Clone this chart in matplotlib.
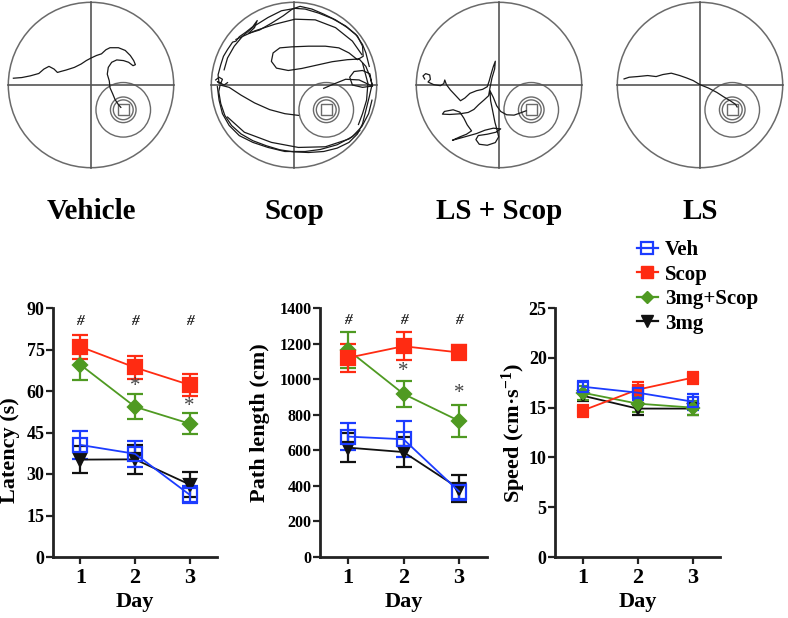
import numpy as np
import matplotlib
matplotlib.use('Agg')
from matplotlib import pyplot as plt
from matplotlib.patches import Circle, Rectangle
from matplotlib.lines import Line2D

plt.rcParams['font.family'] = ['Liberation Serif', 'DejaVu Serif']
plt.rcParams['font.weight'] = 'bold'
plt.rcParams['mathtext.fontset'] = 'custom'
plt.rcParams['mathtext.rm'] = 'Liberation Serif:bold'
plt.rcParams['mathtext.it'] = 'Liberation Serif:bold'

# ---- data ----
days = [1, 2, 3]
groups = ['Veh', 'Scop', '3mg+Scop', '3mg']

lat_veh = [40.5, 37.3, 22.5]
lat_veh_err = [5.2, 4.7, 3.0]
lat_scop = [76.0, 68.5, 62.2]
lat_scop_err = [4.3, 4.2, 4.0]
lat_combo = [69.5, 54.3, 48.2]
lat_combo_err = [5.5, 4.6, 3.8]
lat_3mg = [35.2, 35.3, 26.2]
lat_3mg_err = [5.0, 5.2, 4.6]

path_veh = [677, 662, 368]
path_veh_err = [75, 100, 45]
path_scop = [1120, 1185, 1150]
path_scop_err = [78, 78, 42]
path_combo = [1165, 917, 765]
path_combo_err = [100, 75, 92]
path_3mg = [615, 590, 385]
path_3mg_err = [80, 85, 75]

spd_veh = [17.1, 16.5, 15.6]
spd_veh_err = [0.6, 0.7, 0.8]
spd_scop = [14.7, 16.8, 18.0]
spd_scop_err = [0.6, 0.8, 0.6]
spd_combo = [16.5, 15.4, 15.0]
spd_combo_err = [0.7, 0.8, 0.7]
spd_3mg = [16.2, 14.9, 14.9]
spd_3mg_err = [0.5, 0.6, 0.6]

# significance marks (day, y)
lat_hash_y = 85
lat_star = [(2, 61.5), (3, 54.5)]
path_hash_y = 1330
path_star = [(2, 1045), (3, 920)]

# swim traces, tracker pixels (x right, y down) + pool calibration (cx, cy, R)
pool_names = ['Vehicle', 'Scop', 'LS + Scop', 'LS']
pool_calib = [(274, 252, 244), (267, 255, 245), (267, 253, 247), (930, 253, 245)]

veh_trace = [[(45, 232), (70, 230), (95, 225), (120, 218), (135, 205), (150, 197), (165, 205),
              (175, 215), (185, 212), (200, 208), (225, 200), (245, 190), (260, 180), (275, 172),
              (290, 165), (305, 160), (318, 148), (330, 142), (355, 142), (375, 150), (390, 165),
              (400, 180), (405, 192), (398, 195), (385, 185), (370, 180), (350, 178), (335, 185),
              (325, 200), (322, 220), (328, 240), (330, 260), (338, 278), (345, 295), (355, 310),
              (362, 318)]]

scop_trace = [
    [(45, 250), (42, 225), (50, 195), (58, 170), (70, 150), (85, 128), (95, 125), (105, 112),
     (125, 98), (145, 82), (158, 64), (150, 85), (132, 102), (165, 92), (200, 72), (235, 50),
     (262, 30), (285, 22), (320, 30), (355, 45), (390, 62), (425, 85), (455, 110), (470, 140),
     (472, 170), (455, 180), (430, 160), (400, 145), (360, 140), (310, 140), (260, 142),
     (225, 145), (205, 160), (200, 185), (215, 205), (250, 212), (290, 206), (335, 196),
     (380, 186), (425, 180), (460, 178), (480, 200), (492, 230), (500, 258), (470, 262),
     (440, 255), (432, 232), (445, 215), (470, 212), (492, 222), (498, 255), (490, 290),
     (480, 330), (470, 370), (455, 400), (430, 425), (395, 442), (355, 452), (310, 455),
     (265, 453), (225, 447), (185, 435), (145, 420), (110, 400), (82, 375), (62, 345),
     (50, 310), (44, 275), (48, 255), (75, 262), (110, 285), (150, 308), (195, 328),
     (240, 340), (280, 345)],
    [(498, 258), (460, 240), (420, 238), (385, 252), (355, 265)],
    [(40, 260), (45, 300), (55, 340), (75, 375), (105, 405), (145, 425), (190, 440), (240, 452),
     (300, 452), (345, 446), (395, 432), (440, 408), (468, 378), (488, 340), (498, 300)],
    [(60, 210), (70, 175), (90, 140), (115, 110), (150, 80), (190, 55), (230, 35), (270, 28),
     (300, 30), (340, 42), (380, 58), (420, 80), (450, 105), (470, 135), (480, 160), (490, 200)],
    [(95, 120), (150, 95), (210, 75), (270, 60), (330, 62), (390, 85), (440, 125), (468, 165)],
    [(70, 350), (120, 395), (200, 425), (280, 440), (360, 438), (430, 415), (462, 390)],
    [(470, 190), (486, 250), (482, 300), (470, 340), (458, 372)],
    [(35, 240), (45, 232), (55, 238), (50, 250), (40, 245), (60, 255), (70, 248)],
]

ls_scop_trace = [[
    (45, 235), (40, 226), (48, 219), (60, 223), (62, 236), (55, 244), (72, 252), (92, 255),
    (102, 249), (105, 238), (110, 252), (122, 268), (138, 285), (152, 300), (165, 292),
    (180, 278), (200, 270), (218, 266), (232, 258), (238, 240), (244, 218), (250, 198),
    (256, 182), (254, 205), (246, 232), (240, 262), (236, 285), (222, 298), (206, 312),
    (192, 326), (175, 335), (150, 339), (120, 341), (98, 340), (104, 332), (130, 327),
    (150, 334), (162, 352), (172, 372), (185, 390), (170, 400), (150, 408), (128, 418),
    (150, 412), (175, 405), (200, 398), (225, 388), (250, 382), (272, 384), (258, 394),
    (232, 400), (205, 404), (198, 416), (208, 430), (232, 433), (256, 425), (266, 408),
    (262, 390), (255, 365), (248, 330), (242, 300), (240, 270), (250, 290), (260, 315),
    (272, 332), (290, 342), (312, 343), (332, 336), (348, 330)]]

ls_trace = [[(705, 235), (720, 230), (745, 228), (775, 225), (800, 228), (820, 222), (845, 218),
             (870, 225), (890, 232), (910, 240), (930, 252), (955, 262), (980, 275), (1000, 288),
             (1020, 300), (1035, 310), (1040, 318)]]

pool_traces = [veh_trace, scop_trace, ls_scop_trace, ls_trace]
pool_cx = [91, 294, 499, 700]   # pixel centre of each pool in the figure

platform = (0.39, -0.30)

C_VEH = '#1c3cff'
C_SCOP = '#ff2b12'
C_COMBO = '#4f9a22'
C_3MG = '#111111'

W, H = 788, 618
fig = plt.figure(figsize=(W / 100, H / 100), dpi=100)


def draw_pool(ax, segments, calib):
    cx, cy, R = calib
    grey = '#6a6a6a'
    ax.add_patch(Circle((0, 0), 1, fill=False, ec=grey, lw=1.1))
    ax.plot([-1, 1], [0, 0], color='#555555', lw=1.2)
    ax.plot([0, 0], [-1, 1], color='#555555', lw=1.2)
    px, py = platform
    for r in (0.33, 0.155, 0.12):
        ax.add_patch(Circle((px, py), r, fill=False, ec=grey, lw=1.0))
    ax.add_patch(Rectangle((px - 0.065, py - 0.065), 0.13, 0.13, fill=False, ec=grey, lw=1.0))
    for seg in segments:
        arr = np.array(seg, dtype=float)
        u = (arr[:, 0] - cx) / R
        v = (cy - arr[:, 1]) / R
        ax.plot(u, v, color='#1a1a1a', lw=0.9)
    ax.set_xlim(-1.04, 1.04)
    ax.set_ylim(-1.04, 1.04)
    ax.set_aspect('equal')
    ax.axis('off')


# top row: swim paths
for name, trace, calib, cxp in zip(pool_names, pool_traces, pool_calib, pool_cx):
    size = 172
    pax = fig.add_axes([(cxp - size / 2) / W, 1 - (85 + size / 2) / H, size / W, size / H])
    draw_pool(pax, trace, calib)
    fig.text(cxp / W, 1 - 212 / H, name, ha='center', va='center', fontsize=21, fontweight='bold')


def style_axis(ax, ylim, yticks, ylabel, ytick_size, label_x, label_y):
    ax.set_xlim(0.5, 3.5)
    ax.set_ylim(*ylim)
    ax.set_yticks(yticks)
    ax.set_xticks(days)
    for s in ('top', 'right'):
        ax.spines[s].set_visible(False)
    for s in ('left', 'bottom'):
        ax.spines[s].set_linewidth(2)
        ax.spines[s].set_color('#222222')
    ax.tick_params(axis='both', direction='out', length=5, width=1.6, color='#222222')
    ax.tick_params(axis='y', labelsize=ytick_size, pad=1)
    ax.tick_params(axis='x', labelsize=16, pad=3)
    for lab in ax.get_xticklabels() + ax.get_yticklabels():
        lab.set_fontweight('bold')
    ax.set_xlabel('Day', fontsize=16, fontweight='bold', labelpad=3)
    ax.set_ylabel(ylabel, fontsize=16, fontweight='bold')
    # label anchor = right edge of the rotated text
    ax.yaxis.set_label_coords(label_x, label_y)
    ax.patch.set_alpha(0)


def plot_groups(ax, series, small=False):
    ms_sq = 7 if small else 10
    ms_d = 6 if small else 7.5
    ms_t = 7 if small else 9
    cap = 4.5 if small else 6
    specs = [
        (series[3], C_3MG, 'v', ms_t, C_3MG),
        (series[2], C_COMBO, 'D', ms_d, C_COMBO),
        (series[1], C_SCOP, 's', ms_sq, C_SCOP),
        (series[0], C_VEH, 's', ms_sq, 'none'),
    ]
    for (y, e), col, mk, ms, mfc in specs:
        ax.errorbar(days, y, yerr=e, color=col, marker=mk, ms=ms, mfc=mfc, mec=col,
                    mew=1.6, lw=1.3, elinewidth=1.6, capsize=cap, capthick=1.6)


ax1 = fig.add_axes([53 / W, 61 / H, 164 / W, 249 / H])
ax2 = fig.add_axes([320 / W, 61 / H, 167 / W, 249 / H])
ax3 = fig.add_axes([555 / W, 61 / H, 165 / W, 249 / H])

plot_groups(ax1, [(lat_veh, lat_veh_err), (lat_scop, lat_scop_err),
                  (lat_combo, lat_combo_err), (lat_3mg, lat_3mg_err)])
plot_groups(ax2, [(path_veh, path_veh_err), (path_scop, path_scop_err),
                  (path_combo, path_combo_err), (path_3mg, path_3mg_err)])
plot_groups(ax3, [(spd_veh, spd_veh_err), (spd_scop, spd_scop_err),
                  (spd_combo, spd_combo_err), (spd_3mg, spd_3mg_err)], small=True)

style_axis(ax1, (0, 90), np.arange(0, 91, 15), 'Latency (s)', 13, -0.20, 0.43)
style_axis(ax2, (0, 1400), np.arange(0, 1401, 200), 'Path length (cm)', 11.5, -0.30, 0.54)
style_axis(ax3, (0, 25), np.arange(0, 26, 5), 'Speed (cm\u00b7s$^{-1}$)', 13, -0.165, 0.5)

# significance marks
for ax, hy, stars in ((ax1, lat_hash_y, lat_star), (ax2, path_hash_y, path_star)):
    for d in days:
        ax.text(d, hy, '#', ha='center', va='center', fontsize=11, fontweight='bold',
                style='italic', color='#222222')
    for d, sy in stars:
        ax.text(d, sy, '*', ha='center', va='center', fontsize=15, color='#444444',
                fontweight='normal')

# legend
handles = [
    Line2D([], [], color=C_VEH, marker='s', mfc='none', mec=C_VEH, ms=8, mew=1.6, lw=1.6),
    Line2D([], [], color=C_SCOP, marker='s', mfc=C_SCOP, ms=8, lw=1.6),
    Line2D([], [], color=C_COMBO, marker='D', mfc=C_COMBO, ms=6.5, lw=1.6),
    Line2D([], [], color=C_3MG, marker='v', mfc=C_3MG, ms=8, lw=1.6),
]
fig.legend(handles, groups, loc='upper left', bbox_to_anchor=(637 / W, 1 - 240 / H),
           frameon=False, prop={'size': 15, 'weight': 'bold'}, handlelength=1.0,
           handletextpad=0.35, labelspacing=0.22, borderaxespad=0, borderpad=0)

fig.savefig('out.png', dpi=100)
